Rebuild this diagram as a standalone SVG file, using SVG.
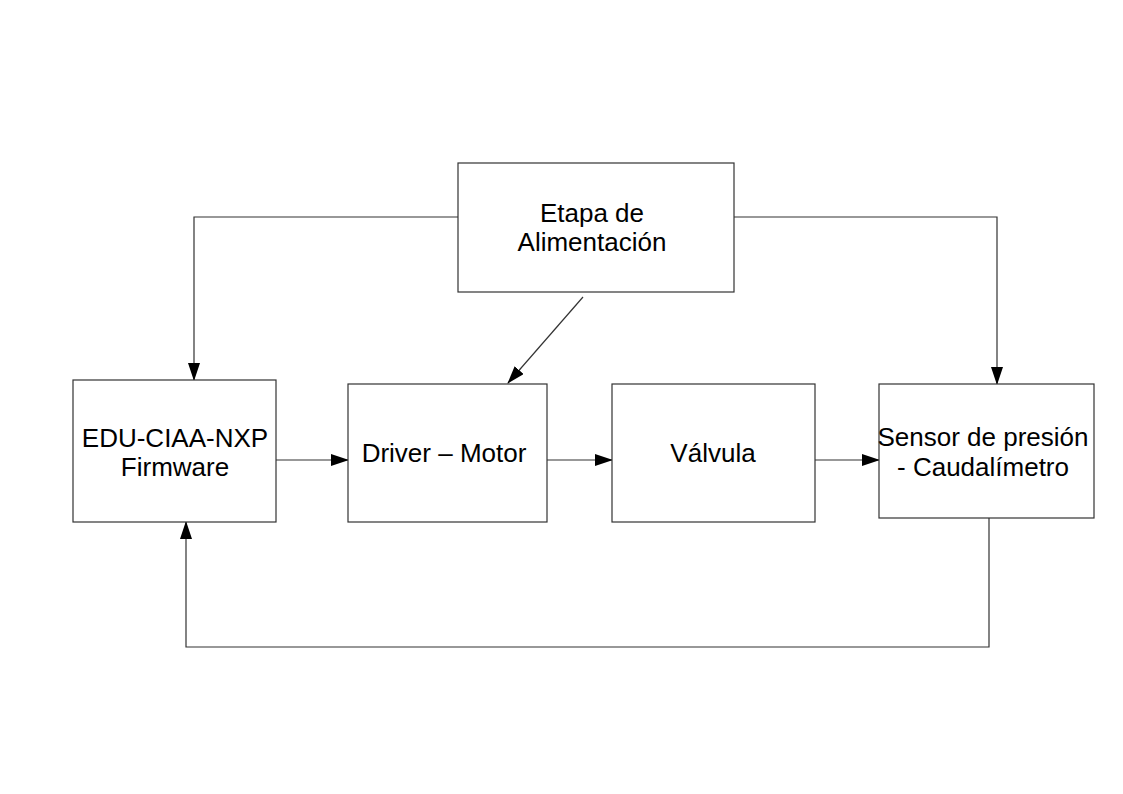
<svg xmlns="http://www.w3.org/2000/svg" width="1123" height="794" viewBox="0 0 1123 794">
<style>
.box{fill:#fff;stroke:#333;stroke-width:1.2}
.lbl{font-family:"Liberation Sans",Arial,sans-serif;font-size:26px;fill:#000;text-anchor:middle}
.con{fill:none;stroke:#333;stroke-width:1.2}
</style>
<defs>
<marker id="ah" markerWidth="18" markerHeight="12" refX="17" refY="6" orient="auto" markerUnits="userSpaceOnUse">
<path d="M0,0 L18,6 L0,12 Z" fill="#000"/>
</marker>
</defs>
<rect width="1123" height="794" fill="#fff"/>
<g id="connectors">
<polyline class="con" points="458,217 194,217 194,380" marker-end="url(#ah)"/>
<polyline class="con" points="734,217 997,217 997,384" marker-end="url(#ah)"/>
<line class="con" x1="583" y1="297" x2="508" y2="383" marker-end="url(#ah)"/>
<line class="con" x1="276" y1="460" x2="348" y2="460" marker-end="url(#ah)"/>
<line class="con" x1="544" y1="460" x2="612" y2="460" marker-end="url(#ah)"/>
<line class="con" x1="811" y1="460" x2="879" y2="460" marker-end="url(#ah)"/>
<polyline class="con" points="989,518 989,647 186,647 186,522" marker-end="url(#ah)"/>
</g>
<g id="etapa">
<rect class="box" x="458" y="163" width="276" height="129"/>
<text class="lbl" x="592" y="222">Etapa de</text>
<text class="lbl" x="592" y="251">Alimentación</text>
</g>
<g id="edu">
<rect class="box" x="73" y="380" width="203" height="142"/>
<text class="lbl" x="175" y="447">EDU-CIAA-NXP</text>
<text class="lbl" x="175" y="476">Firmware</text>
</g>
<g id="driver">
<rect class="box" x="348" y="384" width="199" height="138"/>
<text class="lbl" x="444" y="462">Driver – Motor</text>
</g>
<g id="valvula">
<rect class="box" x="612" y="384" width="203" height="138"/>
<text class="lbl" x="713" y="462">Válvula</text>
</g>
<g id="sensor">
<rect class="box" x="879" y="384" width="215" height="134"/>
<text class="lbl" x="983" y="446">Sensor de presión</text>
<text class="lbl" x="983" y="476">- Caudalímetro</text>
</g>
</svg>
